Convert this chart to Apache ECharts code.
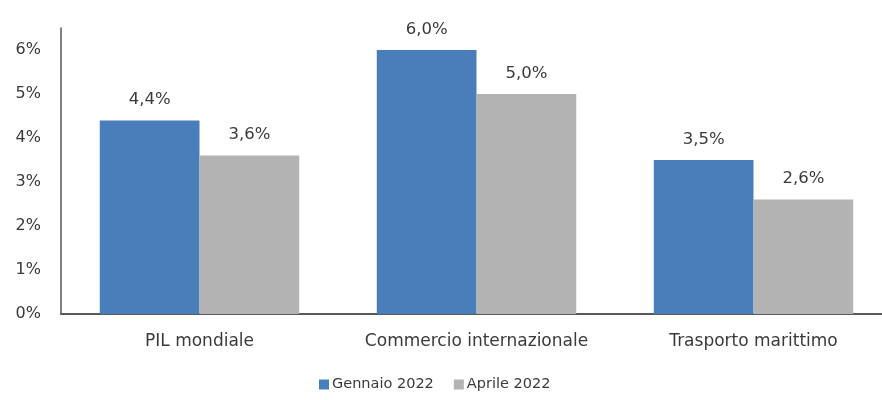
<!DOCTYPE html>
<html>
<head>
<meta charset="utf-8">
<script src="https://cdn.jsdelivr.net/npm/echarts@6/dist/echarts.min.js"></script>
<style>
  html, body { margin: 0; padding: 0; background: #fff; overflow: hidden; }
  #chart { width: 892px; height: 400px; }
</style>
</head>
<body>
<div id="chart"></div>
<script>
// Growth forecasts, January vs April 2022
const categories = ['PIL mondiale', 'Commercio internazionale', 'Trasporto marittimo'];
const seriesNames = ['Gennaio 2022', 'Aprile 2022'];
const gennaio = [4.4, 6.0, 3.5];
const aprile = [3.6, 5.0, 2.6];
const yTicks = [0, 1, 2, 3, 4, 5, 6];

const FONT = '"DejaVu Sans", sans-serif';
const TEXT = '#3a3a3a';

const fmtPct = (v, dec) => v.toFixed(dec).replace('.', ',') + '%';

const labelStyle = {
  show: true,
  position: 'top',
  distance: 12,
  fontFamily: FONT,
  fontSize: 16.5,
  color: TEXT,
  formatter: p => fmtPct(p.value, 1)
};

// the plot runs slightly past the visible right edge
const chart = echarts.init(document.getElementById('chart'), null, { renderer: 'canvas' });
chart.setOption({
  animation: false,
  backgroundColor: '#ffffff',
  grid: { left: 61, top: 28, right: 0, bottom: 86, containLabel: false },
  legend: {
    bottom: 3,
    left: 314,
    itemWidth: 10,
    itemHeight: 10,
    itemGap: 20,
    icon: 'rect',
    textStyle: { fontFamily: FONT, fontSize: 14.5, color: TEXT, padding: [0, 0, 0, -2] },
    data: seriesNames
  },
  xAxis: {
    type: 'category',
    data: categories,
    axisLine: { lineStyle: { color: '#595959', width: 2 } },
    axisTick: { show: false },
    axisLabel: { fontFamily: FONT, fontSize: 17, color: TEXT, margin: 19, interval: 0 }
  },
  yAxis: {
    type: 'value',
    min: yTicks[0],
    max: 6.5,
    interval: 1,
    axisLine: { show: true, lineStyle: { color: '#595959', width: 1.5 } },
    axisTick: { show: false },
    splitLine: { show: false },
    axisLabel: {
      fontFamily: FONT, fontSize: 16, color: TEXT, margin: 20,
      showMaxLabel: false,
      formatter: v => yTicks.includes(v) ? v + '%' : ''
    }
  },
  series: [
    {
      name: seriesNames[0],
      type: 'bar',
      data: gennaio,
      itemStyle: { color: '#4a7ebb' },
      barGap: '0%',
      barCategoryGap: '28%',
      label: labelStyle
    },
    {
      name: seriesNames[1],
      type: 'bar',
      data: aprile,
      itemStyle: { color: '#b3b3b3' },
      label: labelStyle
    }
  ]
});
</script>
</body>
</html>
